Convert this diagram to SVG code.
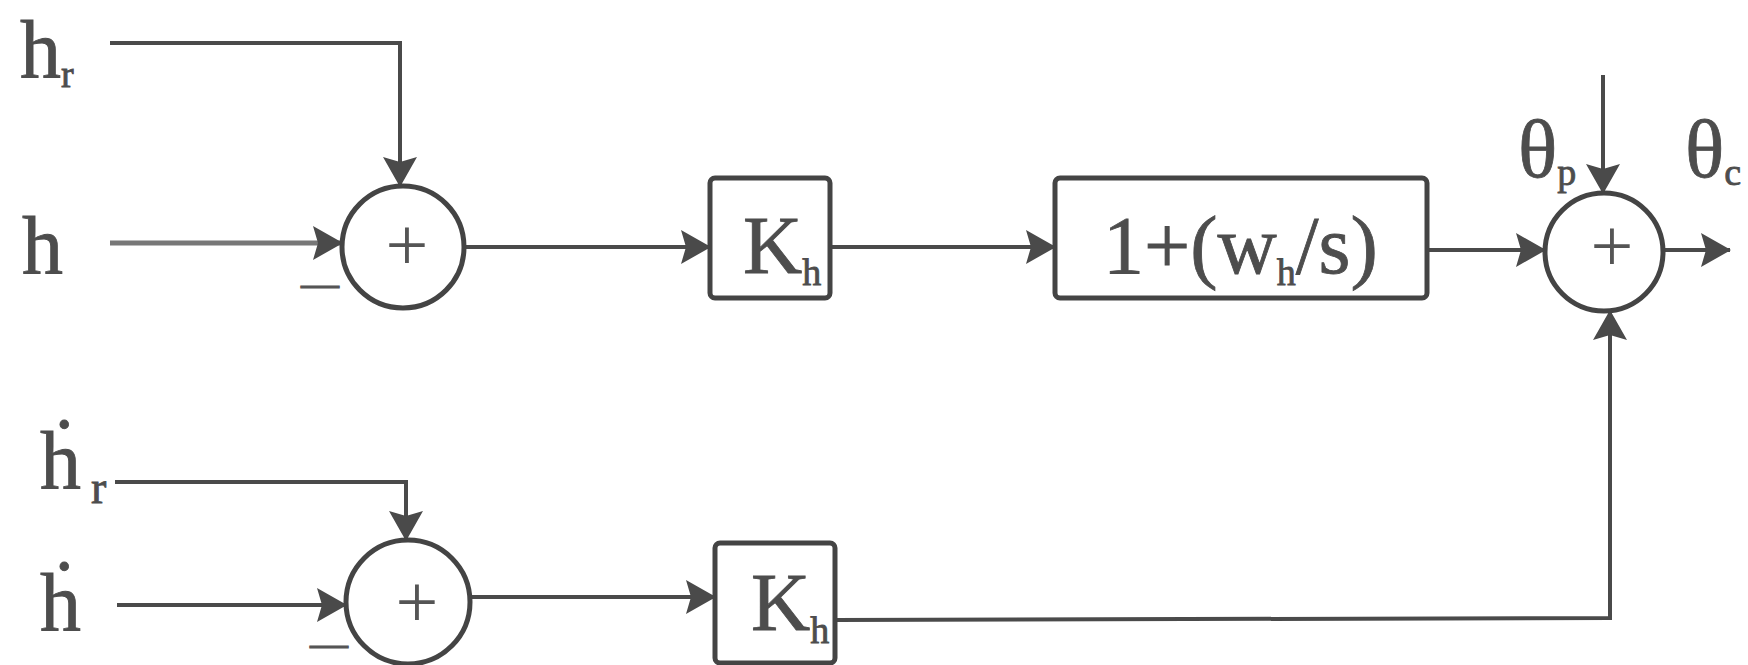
<svg xmlns="http://www.w3.org/2000/svg" width="1748" height="665" viewBox="0 0 1748 665">
  <style>
    .ln { fill: none; stroke: #4a4a4a; stroke-width: 4; }
    .blk { fill: #ffffff; stroke: #444444; stroke-width: 5; }
    .sum { fill: #ffffff; stroke: #444444; stroke-width: 5; }
    .t { font-family: "Liberation Serif", "Times New Roman", serif; fill: #4d4d4d; stroke: #4d4d4d; stroke-width: 0.8; font-size: 82px; }
    .sub { font-size: 38px; }
    .sg { font-family: "Liberation Serif", "Times New Roman", serif; fill: #555555; font-size: 76px; text-anchor: middle; }
    .neg { font-family: "Liberation Serif", "Times New Roman", serif; fill: #555555; stroke: #555555; stroke-width: 1; font-size: 38px; text-anchor: middle; }
  </style>
  <defs>
    <marker id="ah" viewBox="0 0 30 34" refX="29" refY="17" markerWidth="30" markerHeight="34" markerUnits="userSpaceOnUse" orient="auto">
      <path d="M0,0 L30,17 L0,34 L5,17 z" fill="#4a4a4a"/>
    </marker>
  </defs>
  <rect width="1748" height="665" fill="#ffffff"/>

  <!-- signal lines -->
  <g id="connectors">
    <polyline class="ln" points="110,43 400,43 400,186" marker-end="url(#ah)"/>
    <line x1="110" y1="243" x2="342" y2="243" stroke="#777777" stroke-width="5" marker-end="url(#ah)"/>
    <line class="ln" x1="464" y1="247" x2="710" y2="247" marker-end="url(#ah)"/>
    <line class="ln" x1="830" y1="247" x2="1055" y2="247" marker-end="url(#ah)"/>
    <line class="ln" x1="1427" y1="250" x2="1545" y2="250" marker-end="url(#ah)"/>
    <line class="ln" x1="1603" y1="75" x2="1603" y2="193" marker-end="url(#ah)"/>
    <line class="ln" x1="1663" y1="250" x2="1730" y2="250" marker-end="url(#ah)"/>
    <polyline class="ln" points="115,482 406,482 406,540" marker-end="url(#ah)"/>
    <line class="ln" x1="117" y1="605" x2="346" y2="605" marker-end="url(#ah)"/>
    <line class="ln" x1="470" y1="597" x2="715" y2="597" marker-end="url(#ah)"/>
    <polyline class="ln" points="835,620 1610,618 1610,311" marker-end="url(#ah)"/>
  </g>

  <!-- inputs -->
  <g id="in-hr">
    <text class="t" x="20" y="77">h<tspan class="sub" font-size="46" dy="10">r</tspan></text>
  </g>
  <g id="in-h">
    <text class="t" x="22" y="273" fill="#6a6a6a" stroke="#6a6a6a" stroke-width="2.5">h</text>
  </g>
  <g id="in-hdot-r">
    <text class="t" x="40" y="488">ḣ<tspan font-size="46" dx="10" dy="15">r</tspan></text>
  </g>
  <g id="in-hdot">
    <text class="t" x="40" y="630">ḣ</text>
  </g>

  <!-- first summing junction -->
  <g id="sum1">
    <circle class="sum" cx="403" cy="247" r="61"/>
    <text class="sg" x="407" y="270">+</text>
    <text class="neg" x="320" y="296">—</text>
  </g>

  <!-- second summing junction -->
  <g id="sum2">
    <circle class="sum" cx="408" cy="602" r="62"/>
    <text class="sg" x="417" y="627">+</text>
    <text class="neg" x="329" y="656">—</text>
  </g>

  <!-- gain Kh -->
  <g id="gain-kh">
    <rect class="blk" x="710" y="178" width="120" height="120" rx="5"/>
    <text class="t" x="743" y="273" font-size="84">K<tspan class="sub" dy="12">h</tspan></text>
  </g>

  <!-- integral compensator -->
  <g id="comp">
    <rect class="blk" x="1055" y="178" width="372" height="120" rx="5"/>
    <text class="t" x="1103" y="273" font-size="84">1+(w<tspan class="sub" dy="12">h</tspan><tspan dy="-12">/s)</tspan></text>
  </g>

  <!-- rate gain -->
  <g id="gain-khdot">
    <rect class="blk" x="715" y="543" width="120" height="120" rx="5"/>
    <text class="t" x="751" y="630" font-size="84">K<tspan class="sub" dy="13">h</tspan></text>
  </g>

  <!-- output summing junction -->
  <g id="sum3">
    <circle class="sum" cx="1604" cy="252" r="59"/>
    <text class="sg" x="1612" y="271">+</text>
  </g>

  <!-- output labels -->
  <g id="lbl-thp">
    <text class="t" x="1518" y="177">θ<tspan class="sub" dy="8">p</tspan></text>
  </g>
  <g id="lbl-thc">
    <text class="t" x="1685" y="177">θ<tspan class="sub" dy="8">c</tspan></text>
  </g>
</svg>
